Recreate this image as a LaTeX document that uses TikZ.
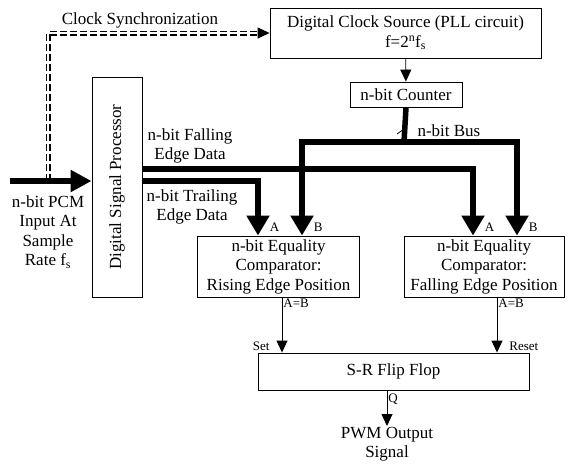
\documentclass[tikz,border=0pt]{standalone}
\usepackage{fontspec}
\setmainfont{Liberation Serif}
\usetikzlibrary{arrows.meta}

\begin{document}
\begin{tikzpicture}[
  x=1pt, y=-1pt,
  font=\fontsize{17}{19.5}\selectfont,
  block/.style={draw, line width=0.9pt, align=center, inner sep=0pt},
  sig/.style={line width=0.9pt, -{Triangle[length=12pt,width=11pt]}},
  bus/.style={line width=5.5pt, -{Triangle[length=20pt,width=22pt]}},
  sync/.style={line width=1.6pt, double, double distance=1.8pt, dash pattern=on 7pt off 3pt},
  tag/.style={font=\fontsize{13}{15}\selectfont, inner sep=1pt}
]
\useasboundingbox (0,0) rectangle (572,464);

% blocks
\node[block, minimum width=271pt, minimum height=50pt] (clk) at (405.5,33) {Digital Clock Source (PLL circuit)\\f=2\textsuperscript{n}f\textsubscript{s}};
\node[block, minimum width=112pt, minimum height=25pt] (cnt) at (406,94.5) {n-bit Counter};
\node[block, minimum width=50pt, minimum height=220pt] (dsp) at (117,187) {};
\node[rotate=90] (dsptxt) at (dsp.center) {Digital Signal Processor};
\node[block, minimum width=162pt, minimum height=61pt] (cmpr) at (278.5,266.5) {n-bit Equality\\Comparator:\\Rising Edge Position};
\node[block, minimum width=160pt, minimum height=61pt] (cmpf) at (484,266.5) {n-bit Equality\\Comparator:\\Falling Edge Position};
\node[block, minimum width=271pt, minimum height=37pt] (sr) at (393.5,371.5) {S-R Flip Flop};

% free ends and branch points
\coordinate (pcm) at (10,181);
\coordinate (tap) at (48,181);
\coordinate (syncend) at ([xshift=-12pt]clk.west);
\coordinate (bus) at (404,142);
\coordinate (tick) at (404,129);
\coordinate (pwm) at (387,426);

% labels
\node (synclabel) at (140,20) {Clock Synchronization};
\node[align=center] (pcmlabel) at (48,232) {n-bit PCM\\Input At\\Sample\\Rate f\textsubscript{s}};
\node[align=center] (falllabel) at (190,146) {n-bit Falling\\Edge Data};
\node[align=center] (traillabel) at (192,207) {n-bit Trailing\\Edge Data};
\node[anchor=west] (buslabel) at (414,131) {n-bit Bus};
\node[anchor=north, align=center, inner sep=1pt] (pwmlabel) at (pwm) {PWM Output\\Signal};

% clock path
\draw[sync] (tap) |- (syncend);
\draw[sig] (syncend) -- (clk.west);
\draw[bus, -{Triangle[length=21pt,width=21pt]}] (pcm) -- ([yshift=6pt]dsp.west);
\draw[sig] (clk) -- (cnt);

% data buses
\draw[line width=5.5pt] (cnt.south) -- (bus);
\draw[line width=0.8pt] ([shift={(-7pt,-5pt)}]tick) -- ([shift={(3pt,2pt)}]tick);
\draw[bus] (bus) -| ([xshift=23.5pt]cmpr.north) node[tag, anchor=south west, xshift=8pt]{B};
\draw[bus] (bus) -| ([xshift=33pt]cmpf.north) node[tag, anchor=south west, xshift=8pt]{B};
\draw[bus] ([yshift=18pt]dsp.east) -| ([xshift=-11pt]cmpf.north) node[tag, anchor=south west, xshift=8pt]{A};
\draw[bus] ([yshift=6pt]dsp.east) -| ([xshift=-20.5pt]cmpr.north) node[tag, anchor=south west, xshift=8pt]{A};

% flip flop
\draw[sig] ([xshift=3.5pt]cmpr.south) -- node[tag, pos=0, anchor=north west]{A=B} ([xshift=3.5pt]cmpr.south |- sr.north) node[tag, anchor=south east, xshift=-11pt]{Set};
\draw[sig] ([xshift=13pt]cmpf.south) -- node[tag, pos=0, anchor=north west]{A=B} ([xshift=13pt]cmpf.south |- sr.north) node[tag, anchor=south west, xshift=11pt]{Reset};
\draw[sig] ([xshift=-6.5pt]sr.south) -- node[tag, pos=0, anchor=north west, yshift=-2pt]{Q} (pwm);
\end{tikzpicture}
\end{document}
